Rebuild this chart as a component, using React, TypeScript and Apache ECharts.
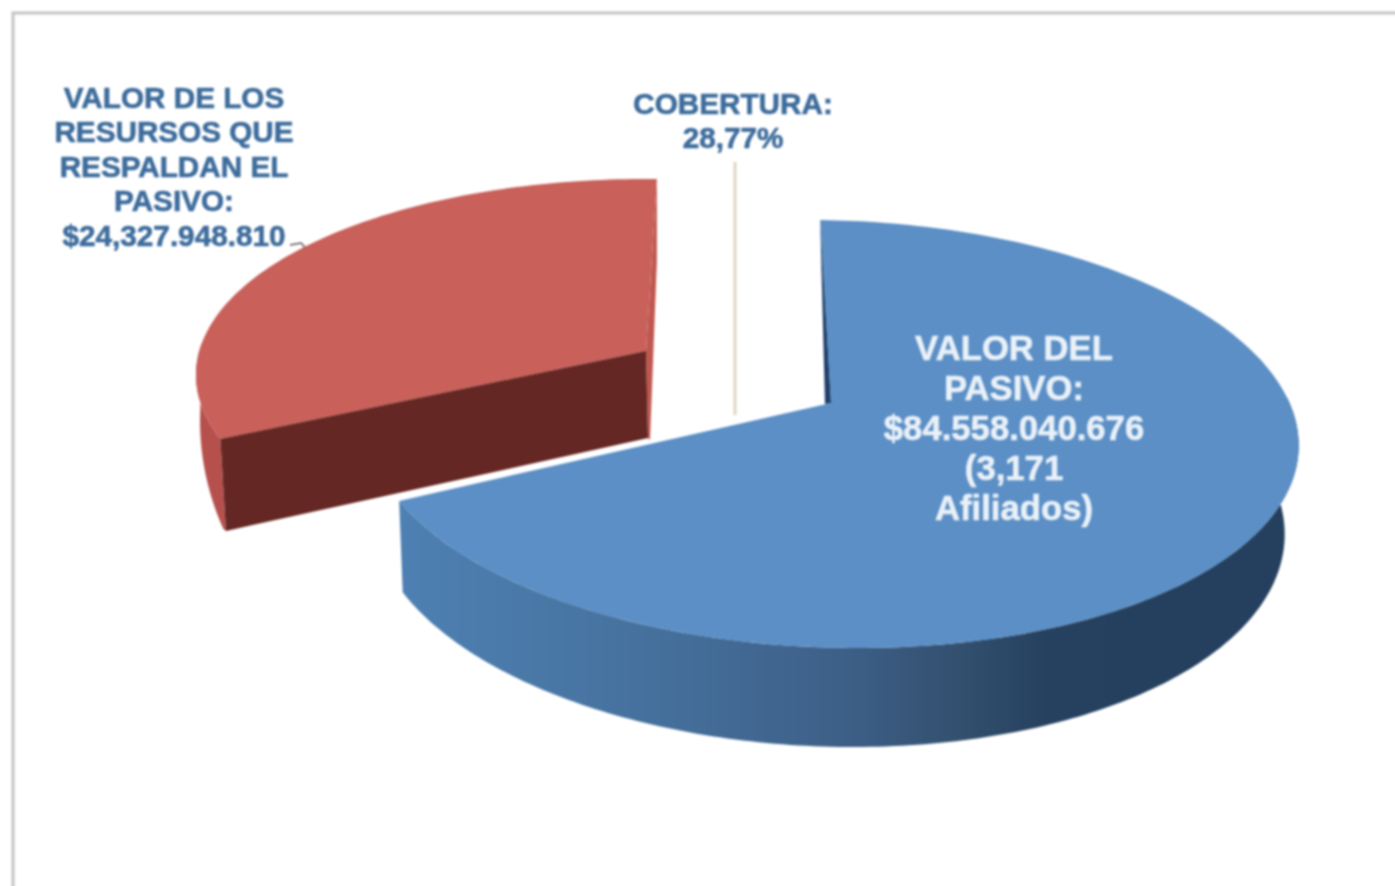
import React, { useEffect, useRef } from "react";
import * as echarts from "echarts";

// ---- data ----
const sliceNames = ["VALOR DEL PASIVO", "RECURSOS QUE RESPALDAN EL PASIVO"];
const sliceShares = [71.23, 28.77];
const labelPasivo = ["VALOR DEL", "PASIVO:", "$84.558.040.676", "(3,171", "Afiliados)"];
const labelRecursos = ["VALOR DE LOS", "RESURSOS QUE", "RESPALDAN EL", "PASIVO:", "$24,327.948.810"];
const labelCobertura = ["COBERTURA:", "28,77%"];

// ---- 3D look: view parameters ----
const START_ANGLE = -88.5; // where the first slice begins on the ellipse
const VIEW_ARC_SCALE = 0.976; // foreshortening of the sweep in the tilted view

type Ell = { cx: number; cy: number; a: number; b: number; s: number };
const blueTop: Ell = { cx: 833, cy: 434, a: 465, b: 214, s: 25 };
const blueBottom: Ell = { cx: 828, cy: 522, a: 456, b: 225, s: 25 };
const blueApex = [831, 403];
const redTop: Ell = { cx: 650, cy: 377, a: 454, b: 198, s: 5 };
const redBottom: Ell = { cx: 655, cy: 469, a: 455, b: 198, s: 10 };
const redWallEdge: Ell = { cx: 450, cy: 420, a: 250, b: 258, s: 0 };
const redApexTop = [646, 351];
const redApexBottom = [648, 438];

const pt = (e: Ell, deg: number) => {
  const t = (deg * Math.PI) / 180;
  return [e.cx + e.a * Math.cos(t) + e.s * Math.sin(t), e.cy + e.b * Math.sin(t)];
};
const arc = (e: Ell, from: number, to: number) => {
  const n = Math.max(2, Math.ceil(Math.abs(to - from)));
  const out: number[][] = [];
  for (let i = 0; i <= n; i++) out.push(pt(e, from + ((to - from) * i) / n));
  return out;
};
const poly = (points: number[][], fill: any) => ({
  type: "polygon",
  shape: { points },
  style: { fill, stroke: "none" },
});

function renderSlice(params: any, api: any) {
  const total = sliceShares.reduce((a, b) => a + b, 0);
  const cut = START_ANGLE + (sliceShares[0] / total) * 360 * VIEW_ARC_SCALE;
  if (params.dataIndex === 1) {
    // detached slice
    const a0 = cut;
    const a1 = START_ANGLE + 360;
    const rimStart = pt(redTop, a1);
    const corner = pt(redBottom, a0);
    const children = [
      poly([...arc(redTop, 190, a0), corner, ...arc(redWallEdge, 155, 180)], "#b5504d"),
      poly(
        [rimStart, [rimStart[0], rimStart[1] + 82], [650, 440], redApexBottom, redApexTop],
        "#c0574f"
      ),
      poly([...arc(redTop, a0, a1), redApexTop], "#c9605a"),
      poly([pt(redTop, a0), redApexTop, redApexBottom, corner], "#652723"),
    ];
    return { type: "group", children };
  }
  const wallFill = new echarts.graphic.LinearGradient(0, 0, 1, 0, [
    { offset: 0, color: "#4e80b3" },
    { offset: 0.14, color: "#4a79a8" },
    { offset: 0.3, color: "#456f9b" },
    { offset: 0.5, color: "#3d5f87" },
    { offset: 0.62, color: "#33506f" },
    { offset: 0.72, color: "#26415f" },
    { offset: 1, color: "#25405e" },
  ]);
  const rimStart = pt(blueTop, START_ANGLE);
  const children = [
    poly([...arc(blueTop, -10, cut), ...arc(blueBottom, cut, -10)], wallFill),
    poly([...arc(blueTop, START_ANGLE, cut), blueApex], "#5b8fc6"),
    poly([rimStart, blueApex, [825, 404]], "#1f3f6b"),
  ];
  return { type: "group", children };
}

const textEl = (lines: string[], x: number, y: number, size: number, lh: number, fill: string) => ({
  type: "text",
  x,
  y,
  z: 20,
  style: {
    text: lines.join("\n"),
    fill,
    font: `bold ${size}px "Liberation Sans", Arial, sans-serif`,
    lineHeight: lh,
    align: "center",
    verticalAlign: "top",
    stroke: fill,
    lineWidth: 0.6,
  },
});

export default function App() {
  const ref = useRef<HTMLDivElement>(null);
  useEffect(() => {
    const chart = echarts.init(ref.current!, null, { renderer: "svg" });
    chart.setOption({
      animation: false,
      backgroundColor: "#ffffff",
      series: [
        {
          type: "custom",
          coordinateSystem: "none",
          z: 5,
          silent: true,
          renderItem: renderSlice,
          data: sliceShares.map((v, i) => ({ name: sliceNames[i], value: [v] })),
        },
      ],
      graphic: [
        {
          type: "polyline",
          z: 1,
          shape: { points: [[13, 900], [13, 13], [1410, 13]] },
          style: { stroke: "#c4c4c4", lineWidth: 3, fill: "none" },
        },
        {
          type: "line",
          z: 1,
          shape: { x1: 735, y1: 162, x2: 735, y2: 415 },
          style: { stroke: "#ddd6c0", lineWidth: 3 },
        },
        {
          type: "polyline",
          z: 1,
          shape: { points: [[290, 245], [301, 243], [304, 246], [305, 256]] },
          style: { stroke: "#555555", lineWidth: 1.5, fill: "none" },
        },
        textEl(labelRecursos, 174, 80, 29.7, 34.5, "#3d6c9c"),
        textEl(labelCobertura, 733, 87, 29.7, 33.5, "#3d6c9c"),
        textEl(labelPasivo, 1014, 328, 34.7, 40, "#eaf1f8"),
      ],
    });
    return () => chart.dispose();
  }, []);
  return (
    <div
      ref={ref}
      style={{ position: "fixed", left: 0, top: 0, width: 1410, height: 900, filter: "blur(1px)" }}
    />
  );
}
